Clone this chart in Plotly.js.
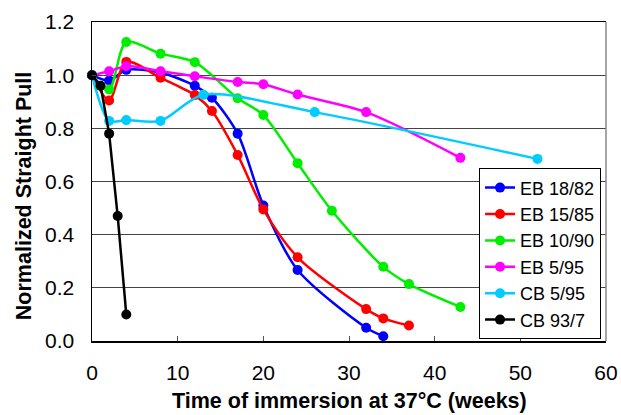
<!DOCTYPE html>
<html>
<head>
<meta charset="utf-8">
<script src="https://cdn.plot.ly/plotly-3.0.1.min.js"></script>
<style>html,body{margin:0;padding:0;background:#fff;}#chart{width:621px;height:415px;}</style>
</head>
<body>
<div id="chart"></div>
<script>
const seriesNames = ["EB 18/82", "EB 15/85", "EB 10/90", "EB 5/95", "CB 5/95", "CB 93/7"];
const seriesColors = ["#0000ff", "#ff0000", "#00ee00", "#ff00ff", "#00ccff", "#000000"];

const eb1882_x = [0, 2, 4, 8, 12, 14, 17, 20, 24, 32, 34];
const eb1882_y = [1.0, 0.98, 1.02, 1.01, 0.96, 0.915, 0.78, 0.51, 0.267, 0.05, 0.018];

const eb1585_x = [0, 2, 4, 8, 12, 14, 17, 20, 24, 32, 34, 37];
const eb1585_y = [1.0, 0.905, 1.05, 0.99, 0.925, 0.865, 0.70, 0.495, 0.315, 0.12, 0.085, 0.058];

const eb1090_x = [0, 2, 4, 8, 12, 17, 20, 24, 28, 34, 37, 43];
const eb1090_y = [1.0, 0.946, 1.125, 1.081, 1.049, 0.913, 0.85, 0.669, 0.49, 0.279, 0.214, 0.128];

const eb595_x = [0, 2, 4, 8, 12, 17, 20, 24, 32, 43];
const eb595_y = [1.0, 1.015, 1.034, 1.015, 0.996, 0.974, 0.966, 0.927, 0.861, 0.689];

const cb595_x = [0, 2, 4, 8, 13, 26, 52];
const cb595_y = [1.0, 0.828, 0.831, 0.828, 0.926, 0.861, 0.685];

const cb937_x = [0, 1, 2, 3, 4];
const cb937_y = [1.0, 0.96, 0.78, 0.47, 0.10];

const xTicks = [0, 10, 20, 30, 40, 50, 60];
const yTicks = [0.0, 0.2, 0.4, 0.6, 0.8, 1.0, 1.2];

const xTitle = 'Time of immersion at 37°C (weeks)';
const yTitle = 'Normalized Straight Pull';

const xs = [eb1882_x, eb1585_x, eb1090_x, eb595_x, cb595_x, cb937_x];
const ys = [eb1882_y, eb1585_y, eb1090_y, eb595_y, cb595_y, cb937_y];

const traces = seriesNames.map((name, i) => ({
  x: xs[i], y: ys[i], name: name, type: 'scatter', mode: 'lines+markers',
  line: {color: seriesColors[i], width: 2.5, shape: i === 5 ? 'linear' : 'spline', smoothing: 0.8},
  marker: {color: seriesColors[i], size: 10, symbol: 'circle'},
  cliponaxis: false
}));

const font = {family: 'Arial, "Liberation Sans", sans-serif', color: '#000'};

const layout = {
  width: 621, height: 415,
  margin: {l: 92, r: 15, t: 22, b: 74},
  paper_bgcolor: '#fff', plot_bgcolor: '#fff',
  showlegend: true,
  legend: {
    x: 0.753, y: 0.541, xanchor: 'left', yanchor: 'top',
    bgcolor: '#fff', bordercolor: '#000', borderwidth: 1,
    font: Object.assign({}, font, {size: 18}),
    itemwidth: 30, tracegroupgap: 0
  },
  xaxis: {
    range: [0, 60], tickvals: xTicks, ticktext: xTicks.map(String),
    showgrid: false, zeroline: false,
    showline: true, linecolor: '#000', linewidth: 1.5, mirror: true,
    ticks: 'inside', ticklen: 5, tickcolor: '#555',
    ticklabelstandoff: 12,
    tickfont: Object.assign({}, font, {size: 21})
  },
  yaxis: {
    range: [0, 1.2], tickvals: yTicks, tickformat: '.1f',
    showgrid: true, gridcolor: '#444', gridwidth: 1,
    zeroline: false,
    showline: true, linecolor: '#000', linewidth: 1.5,
    ticks: 'inside', ticklen: 4, tickcolor: '#444',
    ticklabelstandoff: 12,
    tickfont: Object.assign({}, font, {size: 21})
  },
  annotations: [
    {text: '<b>' + xTitle + '</b>', xref: 'paper', yref: 'paper', x: 0.5, y: -0.188, xanchor: 'center', yanchor: 'middle',
     showarrow: false, font: Object.assign({}, font, {size: 21.5})},
    {text: '<b>' + yTitle + '</b>', xref: 'paper', yref: 'paper', x: -0.132, y: 0.4545, xanchor: 'center', yanchor: 'middle',
     textangle: -90, showarrow: false, font: Object.assign({}, font, {size: 21.5})}
  ],
  shapes: [
    {type: 'line', xref: 'paper', yref: 'paper', x0: 1, x1: 1, y0: 0, y1: 1, line: {color: '#888', width: 1.5}}
  ]
};

Plotly.newPlot('chart', traces, layout, {staticPlot: true, displayModeBar: false});
</script>
</body>
</html>
